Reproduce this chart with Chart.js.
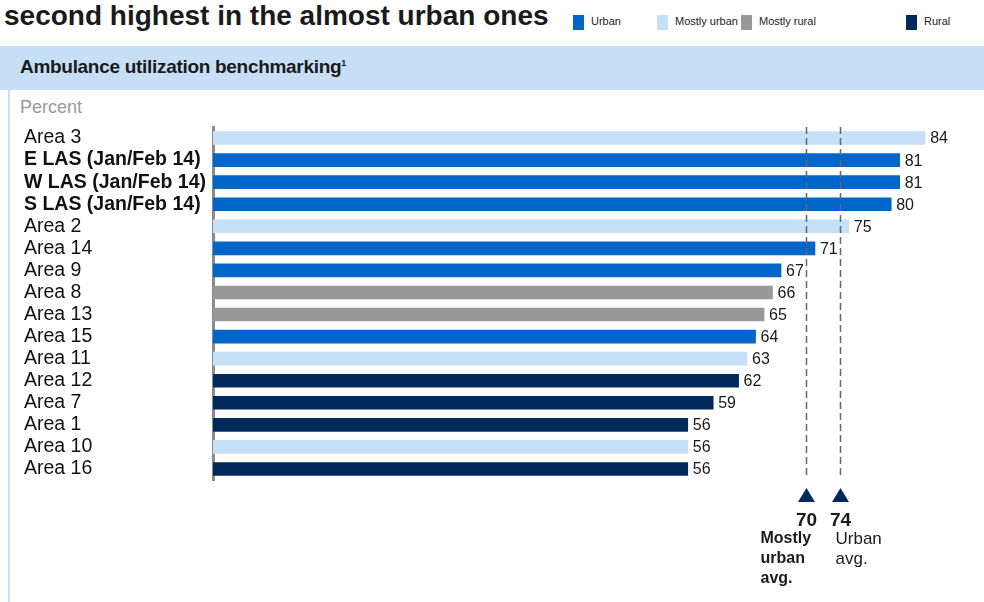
<!DOCTYPE html>
<html>
<head>
<meta charset="utf-8">
<script src="https://cdn.jsdelivr.net/npm/chart.js@4.4.1/dist/chart.umd.min.js"></script>
<style>
  body { margin: 0; width: 984px; height: 602px; overflow: hidden; background: #fff; position: relative;
         font-family: "Liberation Sans", Arial, sans-serif; }
  #title { position: absolute; left: 4px; top: 0px; font-size: 28px; font-weight: bold; color: #1a1a1a; white-space: nowrap; }
  .leg { position: absolute; top: 15px; height: 15px; font-size: 11px; color: #222; white-space: nowrap; }
  .leg i { display: inline-block; width: 11px; height: 15px; vertical-align: middle; margin-right: 7px; }
  #band { position: absolute; left: 0; top: 46px; width: 984px; height: 44px; background: #c6dff7; }
  #band span { position: absolute; left: 20px; top: 10px; font-size: 19px; font-weight: bold; color: #1a1a1a; letter-spacing: -0.3px; }
  #band sup { font-size: 9px; }
  #panel { position: absolute; left: 8px; top: 90px; width: 976px; height: 512px; border-left: 2px solid #c6dff7; }
  #percent { position: absolute; left: 20px; top: 97px; font-size: 18px; color: #9a9a9a; }
  #wrap { position: absolute; left: 0; top: 0; width: 984px; height: 602px; }
</style>
</head>
<body>
<div id="title">second highest in the almost urban ones</div>
<div id="legend"></div>
<div id="band"><span>Ambulance utilization benchmarking<sup>1</sup></span></div>
<div id="panel"></div>
<div id="percent">Percent</div>
<div id="wrap"><canvas id="utilChart"></canvas></div>
<script>
// Chart data
const categories = ['Area 3', 'E LAS (Jan/Feb 14)', 'W LAS (Jan/Feb 14)', 'S LAS (Jan/Feb 14)', 'Area 2',
    'Area 14', 'Area 9', 'Area 8', 'Area 13', 'Area 15', 'Area 11', 'Area 12', 'Area 7', 'Area 1', 'Area 10', 'Area 16'];
const values = [84, 81, 81, 80, 75, 71, 67, 66, 65, 64, 63, 62, 59, 56, 56, 56];
const areaTypes = ['Mostly urban', 'Urban', 'Urban', 'Urban', 'Mostly urban', 'Urban', 'Urban', 'Mostly rural',
    'Mostly rural', 'Urban', 'Mostly urban', 'Rural', 'Rural', 'Rural', 'Mostly urban', 'Rural'];
const typeNames = ['Urban', 'Mostly urban', 'Mostly rural', 'Rural'];
const typeColors = ['#0066cc', '#c6e0f8', '#999999', '#002a5c'];
const boldRows = ['E LAS (Jan/Feb 14)', 'W LAS (Jan/Feb 14)', 'S LAS (Jan/Feb 14)'];
const averages = [70, 74];
const averageLabels = [['Mostly', 'urban', 'avg.'], ['Urban', 'avg.']];

// styling only
const legendLeft = [573, 657, 741, 906];
const avgTextOffset = [-46, -5];
const avgTextBold = [true, false];
const FONT = '"Liberation Sans", Arial, sans-serif';

// legend (html)
const legendBox = document.getElementById('legend');
typeNames.forEach((name, i) => {
    const d = document.createElement('div');
    d.className = 'leg';
    d.style.left = legendLeft[i] + 'px';
    d.innerHTML = `<i style="background:${typeColors[i]}"></i>${name}`;
    legendBox.appendChild(d);
});

// one dataset per area type, so the colours follow the type
const datasets = typeNames.map((name, i) => ({
    label: name,
    data: values.map((v, j) => areaTypes[j] === name ? v : null),
    backgroundColor: typeColors[i],
    barThickness: 13,
}));

const valueLabels = {
    id: 'valueLabels',
    afterDatasetsDraw(chart) {
        const ctx = chart.ctx;
        ctx.save();
        ctx.font = '16px ' + FONT;
        ctx.fillStyle = '#1a1a1a';
        ctx.textAlign = 'left';
        ctx.textBaseline = 'middle';
        chart.data.datasets.forEach((ds, di) => {
            chart.getDatasetMeta(di).data.forEach((bar, j) => {
                if (ds.data[j] === null) return;
                ctx.fillText(ds.data[j], bar.x + 5, bar.y + 1);
            });
        });
        ctx.restore();
    }
};

const averageLines = {
    id: 'averageLines',
    afterDatasetsDraw(chart) {
        const ctx = chart.ctx;
        const area = chart.chartArea;
        const xs = chart.scales.x;
        ctx.save();
        averages.forEach((avg, i) => {
            const px = Math.round(xs.getPixelForValue(avg)) + 0.5;
            // dashed line
            ctx.strokeStyle = '#666';
            ctx.lineWidth = 1.5;
            ctx.setLineDash([7, 4]);
            ctx.beginPath();
            ctx.moveTo(px, area.top);
            ctx.lineTo(px, area.bottom - 2);
            ctx.stroke();
            ctx.setLineDash([]);
            // triangle
            ctx.fillStyle = '#002a5c';
            ctx.beginPath();
            ctx.moveTo(px, 488);
            ctx.lineTo(px + 8.5, 502);
            ctx.lineTo(px - 8.5, 502);
            ctx.closePath();
            ctx.fill();
            // value
            ctx.fillStyle = '#1a1a1a';
            ctx.font = 'bold 19px ' + FONT;
            ctx.textAlign = 'center';
            ctx.textBaseline = 'middle';
            ctx.fillText(avg, px, 521);
            // caption
            ctx.font = (avgTextBold[i] ? 'bold 16px ' : '17px ') + FONT;
            ctx.textAlign = 'left';
            averageLabels[i].forEach((line, k) => {
                ctx.fillText(line, px + avgTextOffset[i], 539 + k * 20);
            });
        });
        ctx.restore();
    }
};

const utilChart = new Chart(document.getElementById('utilChart'), {
    type: 'bar',
    data: { labels: categories, datasets: datasets },
    options: {
        indexAxis: 'y',
        responsive: true,
        maintainAspectRatio: false,
        animation: false,
        layout: { padding: { left: 24, right: 8, top: 127, bottom: 122 } },
        plugins: {
            legend: { display: false },
            tooltip: { enabled: false },
        },
        scales: {
            x: { stacked: true, display: false, min: 0, max: 90 },
            y: {
                stacked: true,
                grid: { display: false, drawTicks: false },
                border: { color: '#8c8c8c', width: 3 },
                ticks: {
                    autoSkip: false,
                    crossAlign: 'far',
                    padding: 0,
                    color: '#111',
                    font: (c) => ({
                        family: FONT,
                        size: 19.5,
                        weight: boldRows.includes(categories[c.index]) ? 'bold' : 'normal',
                    }),
                },
                afterFit: (scale) => { scale.width = 189 },
            },
        },
    },
    plugins: [valueLabels, averageLines],
});
</script>
</body>
</html>
